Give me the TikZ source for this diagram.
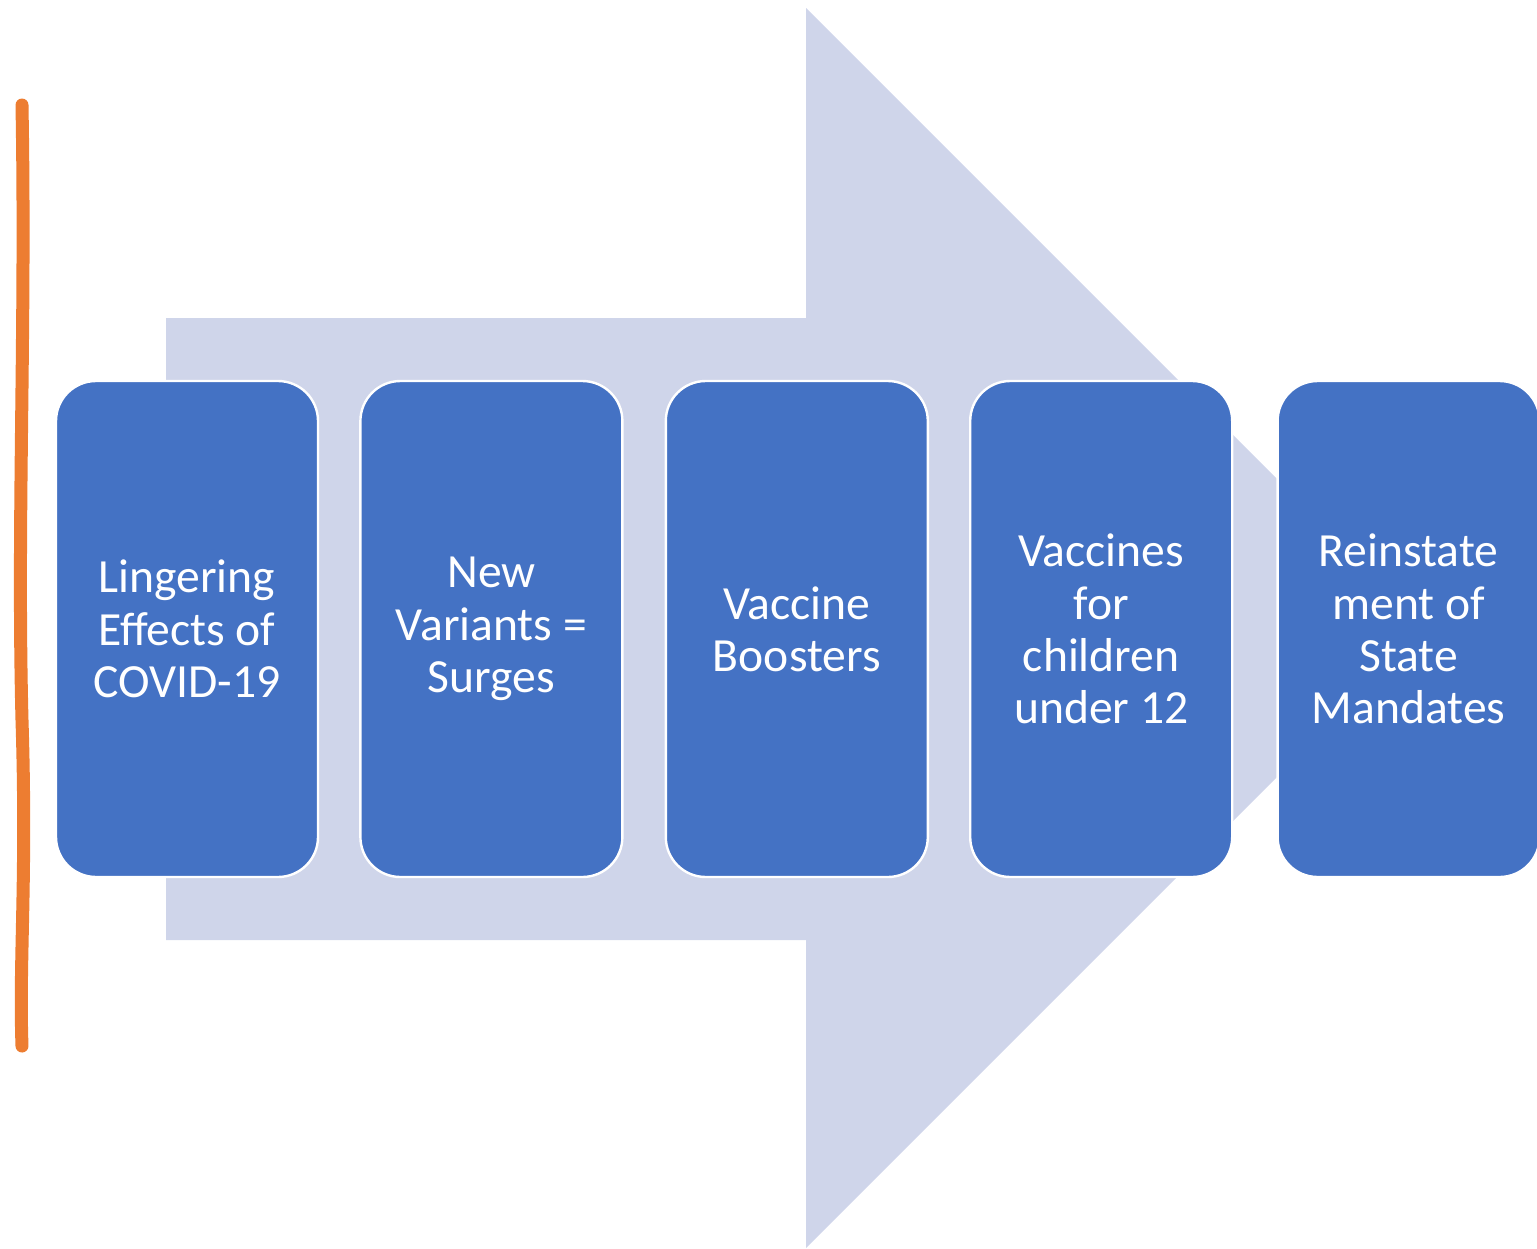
\documentclass[tikz,border=0pt]{standalone}
\usepackage{fontspec}
\setmainfont{Carlito}
\usetikzlibrary{positioning}
\definecolor{boxblue}{HTML}{4472C4}
\definecolor{arrowgrey}{HTML}{CFD5EA}
\definecolor{lineorange}{HTML}{ED7D31}

\begin{document}
\begin{tikzpicture}[x=0.5pt,y=-0.5pt,
		stage/.style={draw=white,line width=1.2pt,fill=boxblue,rounded corners=20pt,minimum width=131pt,minimum height=248pt,text=white,align=center,inner sep=0pt,font=\fontsize{23.8}{26.2}\selectfont}]
			\useasboundingbox (0,0) rectangle (1537,1248);
			\fill[arrowgrey] (166,318) -- (806,318) -- (806,8) -- (1426,628) -- (806,1248) -- (806,940) -- (166,940) -- cycle;
			\draw[lineorange,line width=6.5pt,line cap=round] (22,105) .. controls (26,330) and (17,520) .. (22,720) .. controls (27,880) and (19,960) .. (22,1046);
			
			\node[stage](lingering)at(187,629) {Lingering\\Effects of\\COVID-19};
			\node[stage,right=20pt of lingering](variants) {New\\Variants =\\Surges};
			\node[stage,right=20.5pt of variants](boosters) {Vaccine\\Boosters};
			\node[stage,right=20pt of boosters](children) {Vaccines\\for\\children\\under 12};
			\node[stage,right=21.5pt of children](mandates) {Reinstate\\ment of\\State\\Mandates};
		\end{tikzpicture}
\end{document}
